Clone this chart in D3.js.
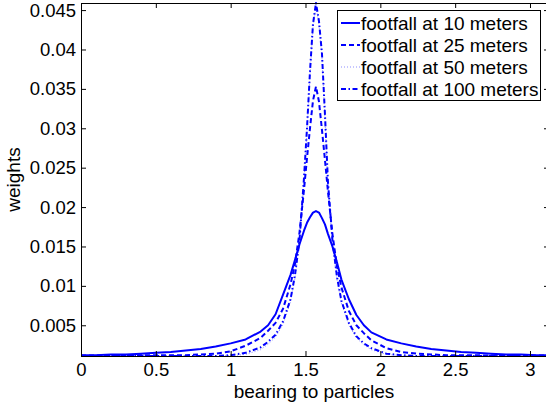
<!DOCTYPE html>
<html>
<head>
<meta charset="utf-8">
<script src="https://cdn.jsdelivr.net/npm/d3@7/dist/d3.min.js"></script>
<style>
  html, body { margin: 0; padding: 0; background: #fff; }
  svg { display: block; font-family: "Liberation Sans", Arial, Helvetica, sans-serif; }
</style>
</head>
<body>
<svg id="chart" width="546" height="407"></svg>
<script>
// Bearing samples (radians), denser around the peak at pi/2
const bearing = [0.00, 0.10, 0.20, 0.30, 0.40, 0.50, 0.60, 0.70, 0.80, 0.90,
  1.00, 1.10, 1.20, 1.25, 1.30, 1.35, 1.40, 1.43, 1.46, 1.49, 1.51, 1.53, 1.55,
  1.57, 1.59, 1.61, 1.63, 1.65, 1.68, 1.71, 1.74, 1.79, 1.84, 1.89, 1.94, 2.04,
  2.14, 2.24, 2.34, 2.44, 2.54, 2.64, 2.74, 2.84, 2.94, 3.04, 3.14];

const w10 = [0.0012, 0.0012, 0.0013, 0.0013, 0.0014, 0.0015, 0.0016, 0.0018, 0.0020, 0.0023,
  0.0027, 0.0032, 0.0042, 0.0050, 0.0064, 0.0089, 0.0114, 0.0133, 0.0153, 0.0170, 0.0180, 0.0187, 0.0193,
  0.0195, 0.0193, 0.0186, 0.0178, 0.0166, 0.0150, 0.0130, 0.0108, 0.0083, 0.0063, 0.0050, 0.0041, 0.0032,
  0.0027, 0.0023, 0.0020, 0.0018, 0.0016, 0.0015, 0.0014, 0.0013, 0.0013, 0.0012, 0.0012];

const w25 = [0.00115, 0.00115, 0.00115, 0.0012, 0.0012, 0.0012, 0.0012, 0.0012, 0.0013, 0.0014,
  0.0017, 0.0024, 0.0034, 0.0043, 0.0053, 0.0071, 0.0102, 0.0128, 0.0168, 0.0222, 0.0262, 0.0300, 0.0335,
  0.0353, 0.0334, 0.0298, 0.0260, 0.0220, 0.0166, 0.0125, 0.0098, 0.0068, 0.0050, 0.0040, 0.0031, 0.0021,
  0.0016, 0.0014, 0.0013, 0.0012, 0.0012, 0.0012, 0.00115, 0.00115, 0.00115, 0.00115, 0.00115];

const w50 = [0.0011, 0.0011, 0.0011, 0.0011, 0.0011, 0.0011, 0.0011, 0.0011, 0.0011, 0.0011,
  0.00115, 0.0013, 0.0019, 0.0026, 0.0035, 0.0051, 0.0080, 0.0110, 0.0155, 0.0233, 0.0297, 0.0368, 0.0428,
  0.0455, 0.0432, 0.0390, 0.0312, 0.0228, 0.0154, 0.0108, 0.0078, 0.0050, 0.0034, 0.0025, 0.0019, 0.0013,
  0.00115, 0.0011, 0.0011, 0.0011, 0.0011, 0.0011, 0.0011, 0.0011, 0.0011, 0.0011, 0.0011];

const w100 = [0.0011, 0.0011, 0.0011, 0.0011, 0.0011, 0.0011, 0.0011, 0.0011, 0.0011, 0.0011,
  0.0012, 0.0015, 0.0022, 0.0029, 0.0038, 0.0055, 0.0083, 0.0114, 0.0158, 0.0237, 0.0300, 0.0372, 0.0432,
  0.0459, 0.0436, 0.0395, 0.0318, 0.0232, 0.0158, 0.0112, 0.0081, 0.0053, 0.0036, 0.0027, 0.0021, 0.0014,
  0.0012, 0.0011, 0.0011, 0.0011, 0.0011, 0.0011, 0.0011, 0.0011, 0.0011, 0.0011, 0.0011];

const seriesNames = ["footfall at 10 meters", "footfall at 25 meters",
  "footfall at 50 meters", "footfall at 100 meters"];
const seriesValues = [w10, w25, w50, w100];

const xTicks = [0, 0.5, 1, 1.5, 2, 2.5, 3];
const yTicks = [0.005, 0.01, 0.015, 0.02, 0.025, 0.03, 0.035, 0.04, 0.045];

// line styles per series: solid, dashed, dotted, dash-dot
const styles = [
  { dash: null, width: 2, opacity: 1 },
  { dash: "5,3", width: 2, opacity: 1 },
  { dash: "1,2", width: 1, opacity: 0.45 },
  { dash: "5,2.5,1.5,2.5", width: 2, opacity: 1 }
];

const svg = d3.select("#chart");
const L = 81, R = 549, T = 3, B = 356;

const x = d3.scaleLinear().domain([0, 3.127]).range([L, R]);
const y = d3.scaleLinear().domain([0.0011, 0.0459]).range([B, T]);

svg.append("defs").append("clipPath").attr("id", "plot")
  .append("rect").attr("x", L).attr("y", T - 2).attr("width", R - L).attr("height", B - T + 2);

const line = d3.line().x((d, i) => x(bearing[i])).y(d => y(d));

const plot = svg.append("g").attr("clip-path", "url(#plot)");
seriesValues.forEach((vals, k) => {
  plot.append("path")
    .attr("d", line(vals))
    .attr("fill", "none")
    .attr("stroke", "#0000ff")
    .attr("stroke-opacity", styles[k].opacity)
    .attr("stroke-width", styles[k].width)
    .attr("stroke-dasharray", styles[k].dash)
    .attr("stroke-linejoin", "round");
});

// axes: inward ticks on all four sides
const tickLen = 5;
const fsTick = 18.5;
const fsText = 19;
const axisBottom = d3.axisBottom(x).tickValues(xTicks).tickSize(-tickLen).tickPadding(7)
  .tickFormat(d3.format("~g"));
const axisTop = d3.axisTop(x).tickValues(xTicks).tickSize(-tickLen).tickFormat("");
const axisLeft = d3.axisLeft(y).tickValues(yTicks).tickSize(-tickLen).tickPadding(5)
  .tickFormat(d3.format("~g"));
const axisRight = d3.axisRight(y).tickValues(yTicks).tickSize(-tickLen).tickFormat("");

function styleAxis(g) {
  g.select(".domain").remove();
  g.selectAll(".tick line").attr("stroke", "#000").attr("stroke-width", 1);
  g.selectAll(".tick text").attr("fill", "#000").attr("font-size", fsTick)
    .attr("font-family", "Liberation Sans, Arial, sans-serif");
}

svg.append("g").attr("transform", `translate(0,${B})`).call(axisBottom).call(styleAxis);
svg.append("g").attr("transform", `translate(0,${T})`).call(axisTop).call(styleAxis);
svg.append("g").attr("transform", `translate(${L},0)`).call(axisLeft).call(styleAxis);
svg.append("g").attr("transform", `translate(${R},0)`).call(axisRight).call(styleAxis);

// frame
svg.append("rect").attr("x", L + 0.5).attr("y", T + 0.5)
  .attr("width", R - L - 1).attr("height", B - T)
  .attr("fill", "none").attr("stroke", "#000").attr("stroke-width", 1);

// axis titles
svg.append("text").attr("x", (L + R) / 2 - 1).attr("y", 397.5)
  .attr("text-anchor", "middle").attr("font-size", fsText).attr("fill", "#000")
  .text("bearing to particles");
svg.append("text").attr("transform", `translate(20,${(T + B) / 2}) rotate(-90)`)
  .attr("text-anchor", "middle").attr("font-size", fsText).attr("fill", "#000")
  .text("weights");

// legend
const lg = svg.append("g");
lg.append("rect").attr("x", 337.5).attr("y", 10.5).attr("width", 203).attr("height", 90)
  .attr("fill", "#fff").attr("stroke", "#000").attr("stroke-width", 1);
seriesNames.forEach((name, k) => {
  const cy = 23 + k * 22;
  lg.append("line").attr("x1", 341).attr("x2", 360).attr("y1", cy).attr("y2", cy)
    .attr("stroke", "#0000ff")
    .attr("stroke-opacity", styles[k].opacity)
    .attr("stroke-width", styles[k].width)
    .attr("stroke-dasharray", styles[k].dash);
  lg.append("text").attr("x", 361).attr("y", cy + 6.5)
    .attr("font-size", fsText).attr("fill", "#000").text(name);
});
</script>
</body>
</html>
